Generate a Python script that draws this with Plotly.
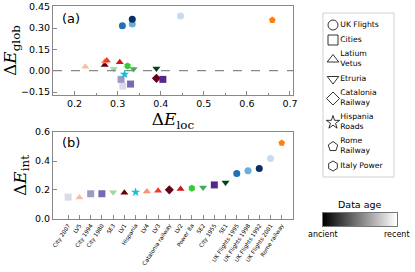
import plotly.graph_objects as go

# ---------------- data ----------------
names = ["City 2007", "LV5", "City 1994", "City 1980", "SE3", "LV1", "Hispania", "LV4", "LV3",
         "Catalonia railway", "LV2", "Power Ita", "SE2", "City 1955", "SE1",
         "UK Flights 1995", "UK Flights 1998", "UK Flights 1992", "UK Flights 2001", "Rome railway"]
e_int = [0.151, 0.149, 0.174, 0.174, 0.185, 0.181, 0.185, 0.19, 0.194, 0.201, 0.206, 0.212,
         0.217, 0.235, 0.251, 0.314, 0.332, 0.348, 0.418, 0.524]
e_loc = [0.312, 0.225, 0.308, 0.330, 0.291, 0.270, 0.316, 0.270, 0.275, 0.390, 0.305, 0.323,
         0.337, 0.405, 0.390, 0.311, 0.334, 0.334, 0.446, 0.659]
e_glob = [-0.108, 0.028, -0.061, -0.094, 0.012, 0.040, -0.026, 0.065, 0.072, -0.054, 0.060, 0.033,
          0.012, -0.061, 0.016, 0.316, 0.328, 0.361, 0.384, 0.356]
colors = ["#dadaeb", "#fcbba1", "#9e9ac8", "#756bb1", "#a1d99b", "#67000d", "#17becf", "#fc9272", "#ef3b2c",
          "#67001f", "#cb181d", "#32cd32", "#41ab5d", "#54278f", "#00441b",
          "#2171b5", "#6baed6", "#08306b", "#c6dbef", "#ff7f0e"]
symbols = ["square", "triangle-up", "square", "square", "triangle-down", "triangle-up", "star", "triangle-up",
           "triangle-up", "diamond", "triangle-up", "hexagon", "triangle-down", "square", "triangle-down",
           "circle", "circle", "circle", "circle", "pentagon"]
legend_names = ["UK Flights", "Cities", "Latium<br>Vetus", "Etruria", "Catalonia<br>Railway",
                "Hispania<br>Roads", "Rome<br>Railway", "Italy Power"]
legend_symbols = ["circle-open", "square-open", "triangle-up-open", "triangle-down-open", "diamond-open",
                  "star-open", "pentagon-open", "hexagon-open"]
age_levels = list(range(100))
age_labels = ["ancient", "recent"]

# legend row positions (pixel units inside the legend box), from the number of text lines
row_y = []
cur = 4.5
for n in legend_names:
    h = 15 if "<br>" not in n else 24
    row_y.append(cur + h / 2)
    cur += h
legend_h = cur + 3.5

fig = go.Figure()

# panel (a)
fig.add_trace(go.Scatter(x=e_loc, y=e_glob, mode="markers", showlegend=False,
                         marker=dict(color=colors, symbol=symbols, size=7),
                         xaxis="x", yaxis="y"))
# panel (b)
fig.add_trace(go.Scatter(x=list(range(len(names))), y=e_int, mode="markers", showlegend=False,
                         marker=dict(color=colors, symbol=symbols, size=7),
                         xaxis="x2", yaxis="y2"))
# custom legend
fig.add_trace(go.Scatter(x=[10] * len(legend_names), y=row_y, mode="markers+text", showlegend=False,
                         text=legend_names, textposition="middle right",
                         textfont=dict(family="DejaVu Sans", size=7.7, color="black"),
                         marker=dict(color="black", symbol=legend_symbols, size=10, line=dict(width=0.8)),
                         hoverinfo="skip", xaxis="x4", yaxis="y4", cliponaxis=False))
# colorbar (data age)
fig.add_trace(go.Heatmap(z=[age_levels], x=age_levels, y=[0], showscale=False,
                         colorscale=[[0, "black"], [1, "white"]], hoverinfo="skip",
                         xaxis="x3", yaxis="y3"))

axis_common = dict(showline=True, mirror=True, linecolor="#888888", linewidth=1,
                   ticks="inside", ticklen=4, tickcolor="#888888", showgrid=False, zeroline=False,
                   tickfont=dict(family="DejaVu Sans", size=9.5, color="black"))
serif = dict(family="DejaVu Serif", size=17, color="black")
hidden = dict(showticklabels=False, ticks="", showline=False, showgrid=False, zeroline=False)

leg_top, leg_left, leg_w = 13, 323, 71

fig.update_layout(
    width=415, height=272, margin=dict(l=0, r=0, t=0, b=0, autoexpand=False),
    paper_bgcolor="white", plot_bgcolor="white",
    xaxis=dict(domain=[0.1277, 0.706], range=[0.15, 0.707], tickvals=[0.2, 0.3, 0.4, 0.5, 0.6, 0.7],
               ticktext=["0.2", "0.3", "0.4", "0.5", "0.6", "0.7"],
               minor=dict(ticks="inside", ticklen=2, dtick=0.05, tickcolor="#888888"),
               title=dict(text="Δ<i>E</i><sub>loc</sub>", font=serif, standoff=0), anchor="y",
               **axis_common),
    yaxis=dict(domain=[0.6507, 0.978], range=[-0.171, 0.455],
               tickvals=[-0.15, 0, 0.15, 0.3, 0.45], ticktext=["−0.15", "0.00", "0.15", "0.30", "0.45"],
               title=dict(text="Δ<i>E</i><sub>glob</sub>", font=serif, standoff=2), anchor="x",
               **axis_common),
    xaxis2=dict(domain=[0.1277, 0.706], range=[-1.35, 20], tickvals=list(range(len(names))),
                ticktext=names, tickangle=-57, anchor="y2",
                **{**axis_common, "tickfont": dict(family="DejaVu Sans", size=5.6, color="black")}),
    yaxis2=dict(domain=[0.1949, 0.5147], range=[0, 0.6], tickvals=[0, 0.2, 0.4, 0.6],
                ticktext=["0.0", "0.2", "0.4", "0.6"],
                title=dict(text="Δ<i>E</i><sub>int</sub>", font=serif, standoff=4), anchor="x2",
                **axis_common),
    xaxis3=dict(domain=[0.778, 0.957], range=[-0.5, 99.5], showticklabels=False, ticks="",
                showline=True, mirror=True, linecolor="#777777", showgrid=False, zeroline=False, anchor="y3"),
    yaxis3=dict(domain=[0.169, 0.217], range=[-0.5, 0.5], showticklabels=False, ticks="",
                showline=True, mirror=True, linecolor="#777777", showgrid=False, zeroline=False, anchor="x3"),
    xaxis4=dict(domain=[leg_left / 415, (leg_left + leg_w) / 415], range=[0, leg_w], anchor="y4", **hidden),
    yaxis4=dict(domain=[1 - (leg_top + legend_h) / 272, 1 - leg_top / 272], range=[legend_h, 0],
                anchor="x4", **hidden),
    shapes=[dict(type="line", xref="x domain", yref="y", x0=0, x1=1, y0=0, y1=0,
                 line=dict(color="#888888", width=1.2, dash="dash")),
            dict(type="rect", xref="x4 domain", yref="y4 domain", x0=0, x1=1, y0=0, y1=1,
                 line=dict(color="#d0d0d0", width=1), layer="below")],
    annotations=[
        dict(text="(a)", x=0.03, y=0.97, xref="x domain", yref="y domain", xanchor="left", yanchor="top",
             showarrow=False, font=dict(family="DejaVu Sans", size=13, color="black")),
        dict(text="(b)", x=0.03, y=0.99, xref="x2 domain", yref="y2 domain", xanchor="left", yanchor="top",
             showarrow=False, font=dict(family="DejaVu Sans", size=13, color="black")),
        dict(text="Data age", x=360 / 415, y=1 - 204 / 272, xref="paper", yref="paper", xanchor="center",
             yanchor="middle", showarrow=False, font=dict(family="DejaVu Sans", size=9.5, color="black")),
        dict(text=age_labels[0], x=0.778, y=1 - 234 / 272, xref="paper", yref="paper", xanchor="center",
             yanchor="middle", showarrow=False, font=dict(family="DejaVu Sans", size=8, color="black")),
        dict(text=age_labels[1], x=0.957, y=1 - 234 / 272, xref="paper", yref="paper", xanchor="center",
             yanchor="middle", showarrow=False, font=dict(family="DejaVu Sans", size=8, color="black")),
    ],
)

fig.write_html("out.html", config={"displayModeBar": False},
               post_script="document.body.style.margin='0';")
